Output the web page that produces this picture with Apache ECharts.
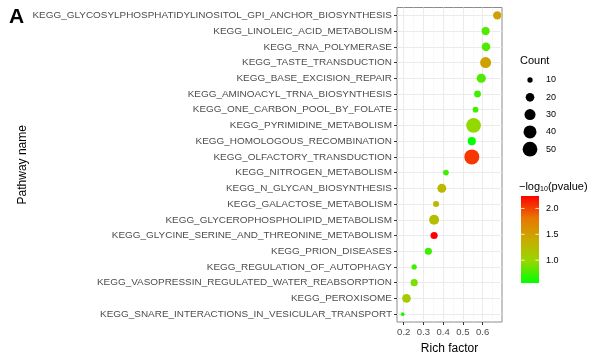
<!DOCTYPE html>
<html>
<head>
<meta charset="utf-8">
<script src="https://cdn.jsdelivr.net/npm/echarts@6/dist/echarts.min.js"></script>
<style>html,body{margin:0;padding:0;background:#fff}#c{width:605px;height:360px}</style>
</head>
<body>
<div id="c"></div>
<script>
const categories = [
  'KEGG_GLYCOSYLPHOSPHATIDYLINOSITOL_GPI_ANCHOR_BIOSYNTHESIS',
  'KEGG_LINOLEIC_ACID_METABOLISM',
  'KEGG_RNA_POLYMERASE',
  'KEGG_TASTE_TRANSDUCTION',
  'KEGG_BASE_EXCISION_REPAIR',
  'KEGG_AMINOACYL_TRNA_BIOSYNTHESIS',
  'KEGG_ONE_CARBON_POOL_BY_FOLATE',
  'KEGG_PYRIMIDINE_METABOLISM',
  'KEGG_HOMOLOGOUS_RECOMBINATION',
  'KEGG_OLFACTORY_TRANSDUCTION',
  'KEGG_NITROGEN_METABOLISM',
  'KEGG_N_GLYCAN_BIOSYNTHESIS',
  'KEGG_GALACTOSE_METABOLISM',
  'KEGG_GLYCEROPHOSPHOLIPID_METABOLISM',
  'KEGG_GLYCINE_SERINE_AND_THREONINE_METABOLISM',
  'KEGG_PRION_DISEASES',
  'KEGG_REGULATION_OF_AUTOPHAGY',
  'KEGG_VASOPRESSIN_REGULATED_WATER_REABSORPTION',
  'KEGG_PEROXISOME',
  'KEGG_SNARE_INTERACTIONS_IN_VESICULAR_TRANSPORT'
];
const richFactor = [0.674, 0.615, 0.617, 0.615, 0.593, 0.574, 0.564, 0.554, 0.545, 0.545,
                    0.414, 0.393, 0.364, 0.354, 0.354, 0.325, 0.253, 0.253, 0.214, 0.195];
const geneCount  = [19, 18, 20, 30, 22, 14, 11, 50, 18, 52,
                    11, 21, 12, 25, 15, 15, 10, 15, 20, 7];
const negLog10P  = [1.48, 0.78, 0.78, 1.48, 0.78, 0.73, 0.73, 0.96, 0.56, 2.04,
                    0.73, 1.27, 1.27, 1.23, 2.24, 0.73, 0.73, 0.90, 1.10, 0.64];

const xTicks = [0.2, 0.3, 0.4, 0.5, 0.6];
const xMinorBreaks = [0.25, 0.35, 0.45, 0.55, 0.65];
const xRange = [0.166, 0.698];
const countLegend = [10, 20, 30, 40, 50];
const colorTicks = [1.0, 1.5, 2.0];
const colorRange = [0.56, 2.24];
const gradientColors = ['#00FF00', '#98D700', '#C9AB00', '#E87600', '#FF0000'];

const FONT = '"Liberation Sans", Arial, Helvetica, sans-serif';
function dotSize(c) { return Math.sqrt(Math.max(4.7 * c - 19, 9)); }

const data = categories.map((n, i) => [richFactor[i], n, geneCount[i], negLog10P[i]]);

// colour bar geometry
const cb = { x: 521, y: 196, w: 18, h: 87 };
const graphics = [];
graphics.push({ type: 'text', left: 9, top: 7, style: { text: 'A', font: 'bold 21px ' + FONT, fill: '#000' } });
graphics.push({ type: 'text', left: 520, top: 55, style: { text: 'Count', font: '11px ' + FONT, fill: '#000' } });
countLegend.forEach((c, i) => {
  const cy = 80 + i * 17.3;
  const r = dotSize(c) / 2;
  graphics.push({ type: 'circle', shape: { cx: 530, cy: cy, r: r }, style: { fill: '#000' } });
  graphics.push({ type: 'text', x: 546, y: cy, style: { text: String(c), font: '9px ' + FONT, fill: '#000', verticalAlign: 'middle' } });
});
graphics.push({ type: 'text', left: 519, top: 181, style: {
  text: '\u2212log{s|10}(pvalue)', font: '11px ' + FONT, fill: '#000',
  rich: { s: { fontSize: 7, fontFamily: FONT, padding: [5, 0, 0, 0] } } } });
graphics.push({ type: 'rect', shape: { x: cb.x, y: cb.y, width: cb.w, height: cb.h },
  style: { fill: new echarts.graphic.LinearGradient(0, 1, 0, 0,
    gradientColors.map((c, i) => ({ offset: i / (gradientColors.length - 1), color: c }))) } });
colorTicks.forEach(v => {
  const y = cb.y + cb.h * (1 - (v - colorRange[0]) / (colorRange[1] - colorRange[0]));
  graphics.push({ type: 'line', shape: { x1: cb.x, y1: y, x2: cb.x + 3.6, y2: y }, style: { stroke: '#fff', lineWidth: 0.8 } });
  graphics.push({ type: 'line', shape: { x1: cb.x + cb.w - 3.6, y1: y, x2: cb.x + cb.w, y2: y }, style: { stroke: '#fff', lineWidth: 0.8 } });
  graphics.push({ type: 'text', x: 546, y: y, style: { text: v.toFixed(1), font: '9px ' + FONT, fill: '#000', verticalAlign: 'middle' } });
});

const chart = echarts.init(document.getElementById('c'), null, { renderer: 'canvas' });
chart.setOption({
  animation: false,
  backgroundColor: '#fff',
  grid: { left: 397, right: 103, top: 7.5, bottom: 29.5, show: true, borderColor: '#8c8c8c', borderWidth: 1, backgroundColor: 'transparent' },
  xAxis: {
    type: 'value', min: xRange[0], max: xRange[1],
    name: 'Rich factor', nameLocation: 'middle', nameGap: 21,
    nameTextStyle: { fontFamily: FONT, fontSize: 12, color: '#000' },
    axisLine: { show: false },
    axisTick: { show: true, length: 3, lineStyle: { color: '#333' }, customValues: xTicks },
    axisLabel: { fontFamily: FONT, fontSize: 9.5, color: '#4d4d4d', margin: 5, customValues: xTicks,
      formatter: v => v.toFixed(1) },
    splitLine: { show: true, lineStyle: { color: '#ebebeb', width: 1 } }
  },
  yAxis: {
    type: 'category', data: categories, inverse: true,
    name: 'Pathway name', nameLocation: 'middle', nameGap: 367, nameRotate: 90,
    nameTextStyle: { fontFamily: FONT, fontSize: 12, color: '#000' },
    axisLine: { show: false },
    axisTick: { show: true, length: 3, alignWithLabel: true, lineStyle: { color: '#333' } },
    axisLabel: { fontFamily: FONT, fontSize: 9.95, color: '#4d4d4d', margin: 5, interval: 0 },
    splitLine: { show: false }
  },
  visualMap: {
    type: 'continuous', show: false, dimension: 3, seriesIndex: 1,
    min: colorRange[0], max: colorRange[1], inRange: { color: gradientColors }
  },
  graphic: graphics,
  series: [
    {
      type: 'scatter', data: [], z: 1, silent: true,
      markLine: {
        z: 1, silent: true, symbol: 'none', label: { show: false }, animation: false,
        data: categories.map(c => ({ yAxis: c, lineStyle: { color: '#ebebeb', width: 1, type: 'solid' } }))
          .concat(xMinorBreaks.map(v => ({ xAxis: v, lineStyle: { color: '#f4f4f4', width: 0.6, type: 'solid' } })))
      }
    },
    {
      type: 'scatter', data: data, z: 3,
      symbolSize: d => dotSize(d[2]),
      itemStyle: { opacity: 1 }
    }
  ]
});
</script>
</body>
</html>
